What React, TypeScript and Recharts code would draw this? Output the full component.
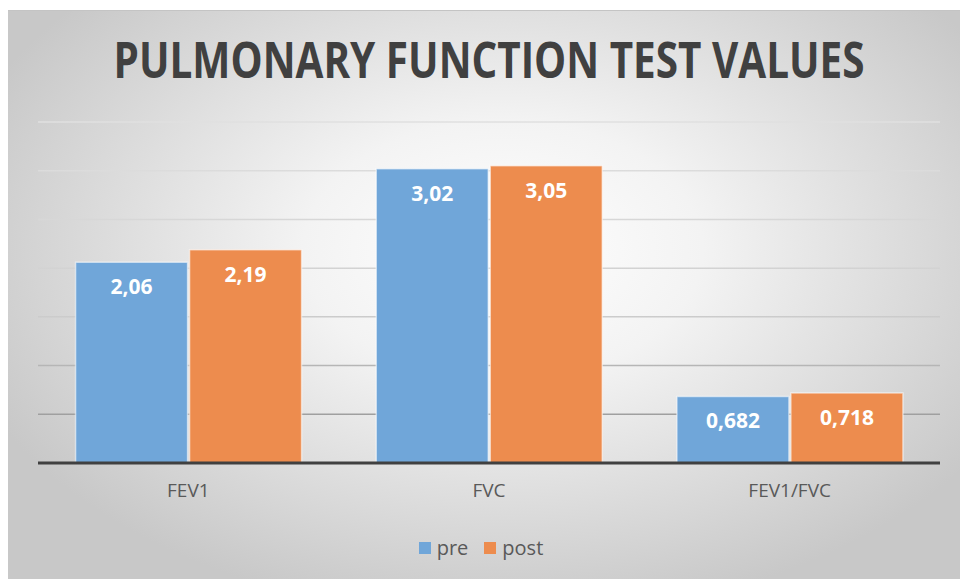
import { useLayoutEffect, useRef, useState } from 'react'
import { BarChart, Bar, XAxis, YAxis, CartesianGrid, Legend, LabelList } from 'recharts'

const categories = ['FEV1', 'FVC', 'FEV1/FVC']
const preValues = [2.06, 3.02, 0.682]
const postValues = [2.19, 3.05, 0.718]
const yTicks = [0, 0.5, 1, 1.5, 2, 2.5, 3, 3.5]

const series = [
  { key: 'pre', color: '#70a6d9' },
  { key: 'post', color: '#ed8c4e' },
]

const data = categories.map((name, i) => ({ name, pre: preValues[i], post: postValues[i] }))

const font = 'Open Sans, sans-serif'
const fmt = (v: unknown) => String(v).replace('.', ',')

// title is squeezed horizontally to get the narrow Calibri-like look
function Title({ text, width }: { text: string; width: number }) {
  const ref = useRef<SVGTextElement>(null)
  const [sx, setSx] = useState(0.8)
  useLayoutEffect(() => {
    if (ref.current) {
      const w = ref.current.getComputedTextLength()
      if (w > 0) setSx(width / w)
    }
  }, [text, width])
  return (
    <svg width={962} height={120} style={{ position: 'absolute', left: 0, top: 0 }}>
      <g transform={`translate(489,78) scale(${sx},1)`}>
        <text ref={ref} x={0} y={0} textAnchor="middle" style={{ fontFamily: font, fontWeight: 700, fontSize: 50, fill: '#404040' }}>
          {text}
        </text>
      </g>
    </svg>
  )
}

function LegendBox() {
  return (
    <div style={{ display: 'flex', justifyContent: 'center', gap: 16, height: 25, alignItems: 'center' }}>
      {series.map((s) => (
        <div key={s.key} style={{ display: 'flex', alignItems: 'center', gap: 6 }}>
          <span style={{ width: 12, height: 12, background: s.color, display: 'inline-block' }} />
          <span style={{ fontFamily: font, fontSize: 20, color: '#595959' }}>{s.key}</span>
        </div>
      ))}
    </div>
  )
}

export default function App() {
  return (
    <div style={{ position: 'absolute', left: 0, top: 0, width: 962, height: 579, background: '#fff' }}>
      <div
        style={{
          position: 'absolute',
          left: 8,
          top: 10,
          width: 952,
          height: 569,
          borderTop: '1px solid #c4c4c4',
          background: 'radial-gradient(ellipse 60% 65% at 52% 42%, #ffffff 0%, #f3f3f3 35%, #c8c8c8 100%)',
        }}
      />
      <Title text="PULMONARY FUNCTION TEST VALUES" width={751} />
      <div style={{ position: 'absolute', left: 0, top: 0 }}>
        <BarChart
          width={962}
          height={579}
          data={data}
          margin={{ top: 122, right: 22, left: 38, bottom: 55 }}
          barCategoryGap="12.5%"
          barGap={2}
        >
          <defs>
            <linearGradient id="gridGrad" gradientUnits="userSpaceOnUse" x1="0" y1="120" x2="0" y2="463">
              <stop offset="0%" stopColor="#e0e0e0" />
              <stop offset="55%" stopColor="#cfcfcf" />
              <stop offset="100%" stopColor="#8a8a8a" />
            </linearGradient>
          </defs>
          <CartesianGrid vertical={false} stroke="url(#gridGrad)" strokeWidth={1.5} />
          <YAxis hide domain={[0, 3.5]} ticks={yTicks} />
          <XAxis
            dataKey="name"
            height={36}
            axisLine={{ stroke: '#404040', strokeWidth: 3 }}
            tickLine={false}
            tick={{ fill: '#595959', fontFamily: font, fontSize: 19 }}
            dy={13}
          />
          <Legend content={<LegendBox />} height={25} wrapperStyle={{ top: 535, left: 0, width: 962 }} />
          <Bar dataKey="pre" fill={series[0].color} stroke="#ffffff" strokeOpacity={0.55} strokeWidth={1.5} isAnimationActive={false}>
            <LabelList
              dataKey="pre"
              position="insideTop"
              offset={17}
              formatter={fmt}
              style={{ fill: '#ffffff', fontFamily: font, fontWeight: 700, fontSize: 21 }}
            />
          </Bar>
          <Bar dataKey="post" fill={series[1].color} stroke="#ffffff" strokeOpacity={0.55} strokeWidth={1.5} isAnimationActive={false}>
            <LabelList
              dataKey="post"
              position="insideTop"
              offset={17}
              formatter={fmt}
              style={{ fill: '#ffffff', fontFamily: font, fontWeight: 700, fontSize: 21 }}
            />
          </Bar>
        </BarChart>
      </div>
    </div>
  )
}
